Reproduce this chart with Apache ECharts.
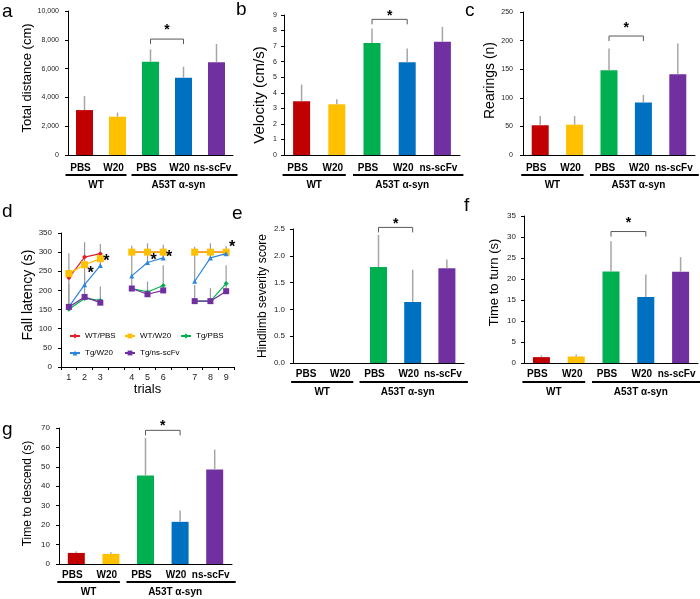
<!DOCTYPE html>
<html><head><meta charset="utf-8">
<script src="https://cdn.jsdelivr.net/npm/echarts@6/dist/echarts.min.js"></script>
<style>html,body{margin:0;padding:0;background:#fff}#c{width:700px;height:599px}</style>
</head><body><div id="c"></div>
<script>
// ---------------- DATA ----------------
const barCats = ['PBS', 'W20', 'PBS', 'W20', 'ns-scFv'];
const groupNames = ['WT', 'A53T α-syn'];
const groupSpans = [[0, 1], [2, 4]];

// a: total distance
const distVals = [3120, 2660, 6470, 5370, 6440];
const distSD   = [980, 280, 860, 760, 1270];
const distSig  = [[2, 3, 8050]];
// b: velocity
const veloVals = [3.46, 3.26, 7.2, 5.97, 7.28];
const veloSD   = [1.07, 0.32, 0.93, 0.87, 0.96];
const veloSig  = [[2, 3, 8.72]];
// c: rearings
const rearVals = [52, 53, 148, 92, 141];
const rearSD   = [16, 15, 38, 13, 54];
const rearSig  = [[2, 3, 208]];
// e: hindlimb severity
const hindVals = [0, 0, 1.79, 1.14, 1.77];
const hindSD   = [0, 0, 0.6, 0.6, 0.16];
const hindSig  = [[2, 3, 2.53]];
// f: time to turn
const turnVals = [1.4, 1.55, 21.8, 15.7, 21.7];
const turnSD   = [0.4, 0.5, 7.2, 5.4, 3.5];
const turnSig  = [[2, 3, 31.3]];
// g: time to descend
const descVals = [5.7, 5.2, 45.5, 21.7, 48.6];
const descSD   = [0.8, 0.8, 19.4, 5.8, 10.3];
const descSig  = [[2, 3, 68.8]];

// d: fall latency over trials
const dTrials  = ['1', '2', '3', '4', '5', '6', '7', '8', '9'];
const dNames   = ['WT/PBS', 'WT/W20', 'Tg/PBS', 'Tg/W20', 'Tg/ns-scFv'];
const dWtPBS   = [233, 287, 296, 300, 300, 300, 300, 300, 300];
const dWtW20   = [244, 267, 283, 300, 300, 300, 300, 300, 300];
const dTgPBS   = [151, 179, 174, 205, 196, 213, 172, 172, 218];
const dTgW20   = [157, 215, 265, 238, 273, 285, 224, 285, 296];
const dTgNs    = [157, 183, 168, 205, 190, 200, 172, 172, 198];
const dErrHighTop = [297, 326, 321, 317, 323, 319, 314, 323, 316];
const dErrLowTop  = [216, 240, 210, 235, 223, 266, 214, 206, 266];
const dStarTrials = [2, 3, 5, 6, 9];
const dStarVals   = [251, 283, 287, 294, 321];

// ---------------- STYLE ----------------
const FONT = '"Liberation Sans", Arial, sans-serif';
const barColors = ['#C00000', '#FFC000', '#00B050', '#0070C0', '#7030A0'];
const dColors = ['#E0202A', '#FFC000', '#00B050', '#2E86DE', '#7030A0'];
const dSymbols = ['diamond', 'rect', 'diamond', 'triangle', 'rect'];
const dSymSize = [5, 7, 5, 5, 6];
const ERR = '#A6A6A6';

const chart = echarts.init(document.getElementById('c'), null, {renderer: 'canvas'});
const grids = [], xAxes = [], yAxes = [], series = [];

function errItem(params, api) {
  const x = api.value(0), v = api.value(1), t = api.value(2);
  if (!(t > v)) return null;
  const p1 = api.coord([x, v]), p2 = api.coord([x, t]);
  return {type: 'line', shape: {x1: p1[0], y1: p1[1], x2: p2[0], y2: p2[1]},
          style: {stroke: ERR, lineWidth: 1.5}};
}

function makeBracket(starGap) {
  return function (params, api) {
    const y = api.value(2);
    const a = api.coord([api.value(0), y]), b = api.coord([api.value(1), y]);
    const leg = 5;
    return {type: 'group', children: [
      {type: 'polyline', shape: {points: [[a[0], a[1] + leg], [a[0], a[1]], [b[0], b[1]], [b[0], b[1] + leg]]},
       style: {stroke: '#595959', lineWidth: 1, fill: null}},
      {type: 'text', x: (a[0] + b[0]) / 2, y: a[1] - starGap + 3,
       style: {text: '*', fontSize: 14, fontWeight: 'bold', fill: '#000', align: 'center', verticalAlign: 'middle', fontFamily: FONT}}
    ]};
  };
}

function makeGroups(lineOff, textOff) {
  return function (params, api) {
    const s = api.value(0), e = api.value(1), name = groupNames[api.value(2)];
    const c0 = api.coord([s, 0]), c1 = api.coord([e, 0]);
    const y = c0[1];
    const right = (e - s) > 1 ? 21 : 9;
    return {type: 'group', children: [
      {type: 'line', shape: {x1: c0[0] - 19, y1: y + lineOff, x2: c1[0] + right, y2: y + lineOff},
       style: {stroke: '#000', lineWidth: 2}},
      {type: 'text', x: (c0[0] + c1[0]) / 2 - 5, y: y + textOff,
       style: {text: name, fontSize: 10, fontWeight: 'bold', fill: '#000', align: 'center', verticalAlign: 'middle', fontFamily: FONT}}
    ]};
  };
}

function addBarPanel(cfg) {
  const gi = grids.length;
  grids.push(Object.assign({containLabel: false, outerBoundsMode: 'none'}, cfg.grid));
  xAxes.push({type: 'category', gridIndex: gi, data: barCats,
    axisLine: {lineStyle: {color: '#000', width: 1}}, axisTick: {show: false},
    axisLabel: {color: '#000', fontFamily: FONT, fontWeight: 'bold', fontSize: 10, margin: cfg.catMargin, interval: 0, padding: [0, 8, 0, 0]}});
  yAxes.push({type: 'value', gridIndex: gi, min: 0, max: cfg.max, interval: cfg.interval,
    splitLine: {show: false},
    axisLine: {show: true, lineStyle: {color: '#000', width: 1}},
    axisTick: {show: true, length: 3, lineStyle: {color: '#000'}},
    axisLabel: {fontSize: cfg.tickSize, color: '#222', fontFamily: FONT, margin: cfg.tickMargin, formatter: cfg.fmt},
    name: cfg.name, nameLocation: 'middle', nameGap: cfg.nameGap,
    nameTextStyle: {fontSize: cfg.nameSize, color: '#000', fontFamily: FONT, padding: cfg.namePad || 0}});
  series.push({type: 'bar', xAxisIndex: gi, yAxisIndex: gi, barWidth: 17, z: 2, animation: false,
    data: cfg.vals.map((v, i) => ({value: v, itemStyle: {color: barColors[i]}}))});
  series.push({type: 'custom', xAxisIndex: gi, yAxisIndex: gi, z: 3, silent: true, encode: {x: 0, y: 1},
    data: cfg.vals.map((v, i) => [i, v, v + cfg.sd[i]]), renderItem: errItem});
  series.push({type: 'custom', xAxisIndex: gi, yAxisIndex: gi, z: 4, silent: true, encode: {x: 0, y: 2},
    data: cfg.sig, renderItem: makeBracket(cfg.starGap)});
  series.push({type: 'custom', xAxisIndex: gi, yAxisIndex: gi, z: 4, silent: true, encode: {x: 0, y: 2},
    data: groupSpans.map((g, k) => [g[0], g[1], k]), renderItem: makeGroups(cfg.lineOff, cfg.textOff)});
}

addBarPanel({grid: {left: 68, top: 11, width: 165, height: 144}, max: 10000, interval: 2000, tickSize: 7, tickMargin: 9,
  name: 'Total distance (cm)', nameSize: 13, nameGap: 32, namePad: [0, 0, 0, 10],
  catMargin: 8, lineOff: 20, textOff: 30, starGap: 12, vals: distVals, sd: distSD, sig: distSig});
addBarPanel({grid: {left: 284, top: 15, width: 176, height: 140}, max: 9, interval: 1, tickSize: 7, tickMargin: 7,
  name: 'Velocity (cm/s)', nameSize: 15, nameGap: 17, namePad: [0, 20, 0, 0],
  catMargin: 8, lineOff: 20, textOff: 30, starGap: 6, vals: veloVals, sd: veloSD, sig: veloSig});
addBarPanel({grid: {left: 523, top: 12, width: 172, height: 143}, max: 250, interval: 50, tickSize: 7, tickMargin: 10,
  name: 'Rearings (n)', nameSize: 14, nameGap: 26, namePad: [0, 0, 0, 6],
  catMargin: 8, lineOff: 20, textOff: 30, starGap: 10.7, vals: rearVals, sd: rearSD, sig: rearSig});
addBarPanel({grid: {left: 293, top: 229, width: 171, height: 134}, max: 2.5, interval: 0.5, tickSize: 8, tickMargin: 8,
  fmt: v => v.toFixed(1),
  name: 'Hindlimb severity score', nameSize: 12, nameGap: 24,
  catMargin: 6, lineOff: 19, textOff: 29, starGap: 6.6, vals: hindVals, sd: hindSD, sig: hindSig});
addBarPanel({grid: {left: 524, top: 216, width: 174, height: 147}, max: 35, interval: 5, tickSize: 8, tickMargin: 8,
  name: 'Time to turn (s)', nameSize: 13, nameGap: 23, namePad: [0, 0, 0, 14],
  catMargin: 6, lineOff: 19, textOff: 29, starGap: 11.7, vals: turnVals, sd: turnSD, sig: turnSig});
addBarPanel({grid: {left: 59, top: 428, width: 173, height: 136}, max: 70, interval: 10, tickSize: 8, tickMargin: 9,
  name: 'Time to descend (s)', nameSize: 12, nameGap: 25, namePad: [0, 0, 0, 5],
  catMargin: 6, lineOff: 18, textOff: 28, starGap: 7.4, vals: descVals, sd: descSD, sig: descSig});

// ---------------- PANEL d ----------------
const dCats = [];
dTrials.forEach((t, i) => { dCats.push(t); if (i % 3 === 2 && i < dTrials.length - 1) dCats.push(''); });
const slot = t => t + Math.floor(t / 3);
function spread(arr) { const out = dCats.map(() => null); arr.forEach((v, t) => { out[slot(t)] = v; }); return out; }

const dg = grids.length;
grids.push({left: 61, top: 233, width: 173, height: 134, containLabel: false, outerBoundsMode: 'none'});
xAxes.push({type: 'category', gridIndex: dg, data: dCats, boundaryGap: true,
  axisLine: {lineStyle: {color: '#000', width: 1}},
  axisTick: {show: true, interval: 0, length: 3, lineStyle: {color: '#000'}},
  axisLabel: {interval: 0, fontSize: 9, color: '#222', fontFamily: FONT, margin: 6},
  name: 'trials', nameLocation: 'middle', nameGap: 15, nameTextStyle: {fontSize: 13, color: '#000', fontFamily: FONT}});
yAxes.push({type: 'value', gridIndex: dg, min: 0, max: 350, interval: 50, splitLine: {show: false},
  axisLine: {show: true, lineStyle: {color: '#000', width: 1}},
  axisTick: {show: true, length: 3, lineStyle: {color: '#000'}},
  axisLabel: {fontSize: 8, color: '#222', fontFamily: FONT, margin: 9},
  name: 'Fall latency (s)', nameLocation: 'middle', nameGap: 26,
  nameTextStyle: {fontSize: 14, color: '#000', fontFamily: FONT, padding: [0, 0, 0, 10]}});

const dSeriesData = [dWtPBS, dWtW20, dTgPBS, dTgW20, dTgNs];
// error bars
series.push({type: 'custom', xAxisIndex: dg, yAxisIndex: dg, z: 1, silent: true, encode: {x: 0, y: 1},
  data: dTrials.map((t, i) => [slot(i), dTgW20[i], dErrHighTop[i]]), renderItem: function (p, api) {
    const x = api.value(0), v = api.value(1), t = api.value(2);
    const p1 = api.coord([x, v]), p2 = api.coord([x, t]);
    return {type: 'line', shape: {x1: p1[0], y1: p1[1], x2: p2[0], y2: p2[1]}, style: {stroke: '#9A9A9A', lineWidth: 1.2}};
  }});
series.push({type: 'custom', xAxisIndex: dg, yAxisIndex: dg, z: 1, silent: true, encode: {x: 0, y: 1},
  data: dTrials.map((t, i) => [slot(i), Math.min(dTgPBS[i], dTgNs[i]), dErrLowTop[i]]), renderItem: function (p, api) {
    const x = api.value(0), v = api.value(1), t = api.value(2);
    const p1 = api.coord([x, v]), p2 = api.coord([x, t]);
    return {type: 'line', shape: {x1: p1[0], y1: p1[1], x2: p2[0], y2: p2[1]}, style: {stroke: '#9A9A9A', lineWidth: 1.2}};
  }});
dNames.forEach((nm, k) => {
  series.push({type: 'line', name: nm, xAxisIndex: dg, yAxisIndex: dg, z: 3 + k, animation: false,
    data: spread(dSeriesData[k]), connectNulls: false,
    symbol: dSymbols[k], symbolSize: dSymSize[k], showAllSymbol: true,
    lineStyle: {color: dColors[k], width: 1.2}, itemStyle: {color: dColors[k]}});
});
// significance stars
series.push({type: 'custom', xAxisIndex: dg, yAxisIndex: dg, z: 10, silent: true, encode: {x: 0, y: 1},
  data: dStarTrials.map((t, i) => [slot(t - 1), dStarVals[i]]), renderItem: function (p, api) {
    const c = api.coord([api.value(0), api.value(1)]);
    return {type: 'text', x: c[0] + 6, y: c[1] + 3,
      style: {text: '*', fontSize: 16, fontWeight: 'bold', fill: '#000', align: 'center', verticalAlign: 'middle', fontFamily: FONT}};
  }});

const legendPos = [[69, 332], [124, 332], [180, 332], [69, 349], [124, 349]];
const legends = dNames.map((nm, k) => ({data: [nm], left: legendPos[k][0], top: legendPos[k][1], padding: 0, itemGap: 0,
  itemWidth: 10, itemHeight: 6, textStyle: {fontSize: 8, color: '#000', fontFamily: FONT}, selectedMode: false}));

// panel letters
const letters = [['a', 2, 11.5], ['b', 236, 9.5], ['c', 465, 10.5], ['d', 2, 211.5], ['e', 232, 213.5], ['f', 464, 206], ['g', 2, 429.5]];
const graphic = letters.map(l => ({type: 'text', x: l[1], y: l[2],
  style: {text: l[0], fontSize: 19, fill: '#000', fontFamily: FONT, verticalAlign: 'middle', align: 'left'}}));

chart.setOption({
  animation: false,
  backgroundColor: '#fff',
  textStyle: {fontFamily: FONT},
  grid: grids, xAxis: xAxes, yAxis: yAxes, series: series, legend: legends, graphic: graphic
});
</script></body></html>
